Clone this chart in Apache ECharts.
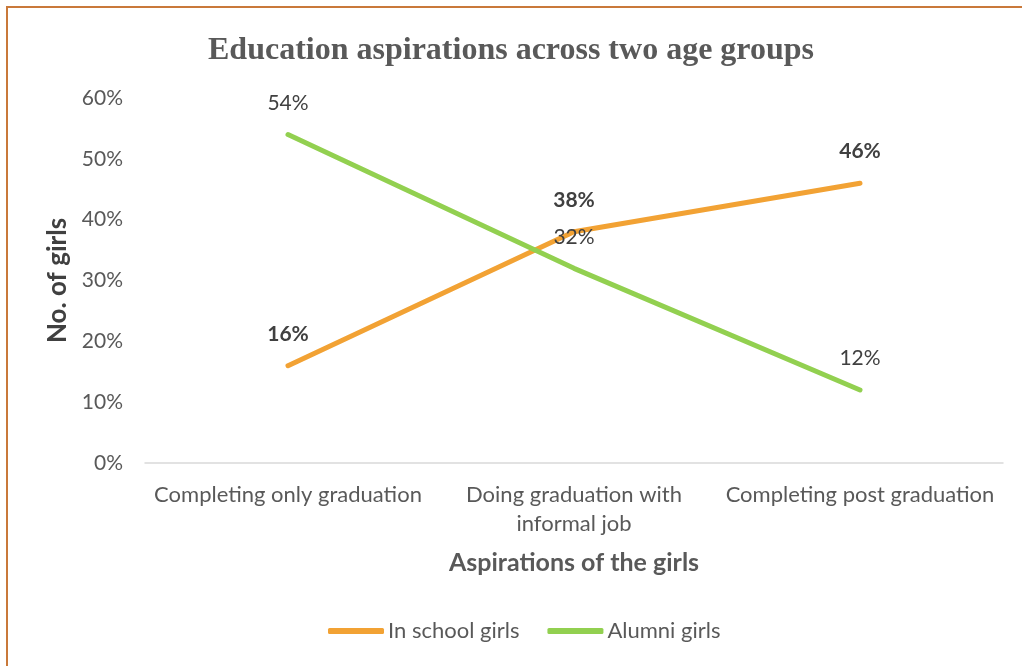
<!DOCTYPE html>
<html><head><meta charset="utf-8">
<script src="https://cdn.jsdelivr.net/npm/echarts@6/dist/echarts.min.js"></script>
<style>
html,body{margin:0;padding:0;background:#fff;}
#frame{position:absolute;left:6px;top:6px;width:1016px;height:660px;border-left:2px solid #c9793a;border-top:2px solid #c9793a;box-sizing:border-box;}
#chart{position:absolute;left:0;top:0;width:1022px;height:666px;}
</style></head>
<body>
<div id="frame"></div>
<div id="chart"></div>
<script>
const categories = ['Completing only graduation', 'Doing graduation with\ninformal job', 'Completing post graduation'];
const inSchool = [16, 38, 46];
const alumni = [54, 32, 12];
const yTicks = [0, 10, 20, 30, 40, 50, 60];

const chart = echarts.init(document.getElementById('chart'));
const font = 'Lato, "Open Sans", sans-serif';
chart.setOption({
  backgroundColor: 'transparent',
  title: {
    text: 'Education aspirations across two age groups',
    left: 'center', top: 30,
    textStyle: {fontFamily: '"Liberation Serif", "DejaVu Serif", serif', fontWeight: 'bold', fontSize: 32, color: '#595959'}
  },
  legend: {
    bottom: 19, left: 323, itemWidth: 56, itemHeight: 6, itemGap: 28,
    icon: 'roundRect',
    textStyle: {fontFamily: font, fontSize: 22, color: '#595959', padding: [0,0,0,-1]},
    data: ['In school girls', 'Alumni girls']
  },
  grid: {left: 145, right: 19, top: 98, bottom: 203},
  xAxis: {
    type: 'category', data: categories, boundaryGap: true,
    axisLine: {lineStyle: {color: '#d9d9d9', width: 1.5}},
    axisTick: {show: false},
    axisLabel: {fontFamily: font, fontSize: 22, color: '#595959', margin: 17, lineHeight: 29, interval: 0},
    name: 'Aspirations of the girls', nameLocation: 'middle', nameGap: 87,
    nameTextStyle: {fontFamily: font, fontSize: 25, fontWeight: 'bold', color: '#595959'}
  },
  yAxis: {
    type: 'value', min: 0, max: 60, interval: 10,
    axisLine: {show: false}, axisTick: {show: false}, splitLine: {show: false},
    axisLabel: {fontFamily: font, fontSize: 21, color: '#595959', margin: 22, formatter: v => yTicks.includes(v) ? v + '%' : ''},
    name: 'No. of girls', nameLocation: 'middle', nameGap: 70, nameRotate: 90,
    nameTextStyle: {fontFamily: font, fontSize: 26, fontWeight: 'bold', color: '#404040'}
  },
  series: [
    {
      name: 'In school girls', type: 'line', data: inSchool, symbol: 'circle', symbolSize: 0, showSymbol: true,
      lineStyle: {color: '#f2a234', width: 5, cap: 'round'}, itemStyle: {color: '#f2a234'},
      label: {show: true, position: 'top', distance: 21, formatter: p => p.value + '%', fontFamily: font, fontSize: 21, fontWeight: 'bold', color: '#404040'},
      z: 2
    },
    {
      name: 'Alumni girls', type: 'line', data: alumni, symbol: 'circle', symbolSize: 0, showSymbol: true,
      lineStyle: {color: '#92d050', width: 5, cap: 'round'}, itemStyle: {color: '#92d050'},
      label: {show: true, position: 'top', distance: 21, formatter: p => p.value + '%', fontFamily: font, fontSize: 21, color: '#404040'},
      z: 3
    }
  ]
});
</script>
</body></html>
